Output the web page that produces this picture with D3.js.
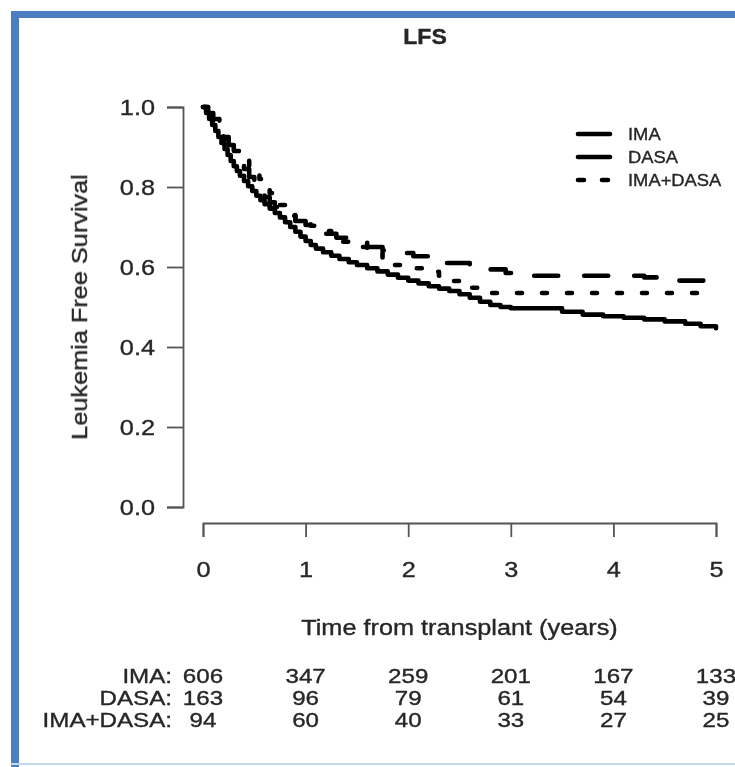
<!DOCTYPE html>
<html>
<head>
<meta charset="utf-8">
<script src="https://cdn.jsdelivr.net/npm/d3@7"></script>
<style>
  html, body { margin: 0; padding: 0; background: #fff; }
  svg text { font-family: "Liberation Sans", Arial, Helvetica, sans-serif; fill: #262626; stroke: #262626; stroke-width: 0.35; }
</style>
</head>
<body>
<div id="chart"></div>
<script>
// Kaplan-Meier step data (years, survival)
const imaTime = [0, 0.03, 0.06, 0.09, 0.12, 0.15, 0.18, 0.21, 0.24, 0.27, 0.3, 0.33, 0.36, 0.4, 0.44, 0.48, 0.52, 0.56, 0.6, 0.65, 0.7, 0.75, 0.8, 0.85, 0.9, 0.95, 1.0, 1.05, 1.1, 1.17, 1.25, 1.33, 1.42, 1.5, 1.6, 1.7, 1.8, 1.9, 2.0, 2.1, 2.2, 2.3, 2.4, 2.5, 2.6, 2.7, 2.8, 2.9, 3.0, 3.5, 3.7, 3.9, 4.1, 4.3, 4.5, 4.7, 4.85, 5.0]
const imaSurv = [1.0, 0.985, 0.97, 0.955, 0.94, 0.925, 0.91, 0.895, 0.88, 0.865, 0.852, 0.84, 0.828, 0.815, 0.802, 0.79, 0.778, 0.767, 0.757, 0.746, 0.735, 0.724, 0.712, 0.7, 0.688, 0.676, 0.665, 0.655, 0.646, 0.637, 0.628, 0.62, 0.612, 0.605, 0.597, 0.589, 0.581, 0.573, 0.566, 0.559, 0.552, 0.546, 0.54, 0.532, 0.523, 0.513, 0.505, 0.5, 0.497, 0.488, 0.481, 0.477, 0.473, 0.469, 0.464, 0.458, 0.452, 0.447]

const dasaTime = [0, 0.05, 0.1, 0.15, 0.2, 0.25, 0.3, 0.35, 0.4, 0.45, 0.5, 0.55, 0.6, 0.65, 0.7, 0.8, 0.9, 1.0, 1.1, 1.2, 1.3, 1.45, 1.6, 1.75, 1.9, 2.05, 2.2, 2.35, 2.6, 2.8, 2.95, 3.05, 4.3, 4.45, 5.0]
const dasaSurv = [1.0, 0.985, 0.965, 0.945, 0.925, 0.905, 0.885, 0.865, 0.845, 0.825, 0.805, 0.79, 0.775, 0.762, 0.75, 0.73, 0.715, 0.705, 0.695, 0.683, 0.673, 0.662, 0.65, 0.642, 0.635, 0.627, 0.618, 0.61, 0.603, 0.594, 0.585, 0.578, 0.574, 0.566, 0.566]

const comboTime = [0, 0.07, 0.12, 0.16, 0.2, 0.25, 0.3, 0.35, 0.4, 0.45, 0.5, 0.55, 0.6, 0.65, 0.7, 0.75, 0.8, 0.85, 0.9, 0.95, 1.05, 1.15, 1.25, 1.35, 1.5, 1.6, 1.75, 1.85, 2.0, 2.15, 2.3, 2.4, 2.5, 2.6, 2.7, 2.78, 5.0]
const comboSurv = [1.0, 0.99, 0.97, 0.945, 0.92, 0.9, 0.89, 0.878, 0.866, 0.853, 0.838, 0.82, 0.8, 0.785, 0.77, 0.755, 0.74, 0.728, 0.718, 0.71, 0.703, 0.69, 0.672, 0.663, 0.65, 0.64, 0.622, 0.605, 0.597, 0.588, 0.578, 0.565, 0.555, 0.548, 0.54, 0.535, 0.535]

const groups = ['IMA', 'DASA', 'IMA+DASA']
const xTicks = [0, 1, 2, 3, 4, 5]
const yTicks = [0, 0.2, 0.4, 0.6, 0.8, 1.0]

// numbers at risk
const riskTimes = [0, 1, 2, 3, 4, 5]
const riskIma = [606, 347, 259, 201, 167, 133]
const riskDasa = [163, 96, 79, 61, 54, 39]
const riskCombo = [94, 60, 40, 33, 27, 25]

const width = 735
const height = 767

const svg = d3.select('#chart').append('svg')
    .attr('width', width)
    .attr('height', height)

const defs = svg.append('defs')
defs.append('filter').attr('id', 'soft')
    .append('feGaussianBlur').attr('stdDeviation', 0.45)

// frame (blue border of the slide)
svg.append('rect').attr('x', 11).attr('y', 11).attr('width', width - 11).attr('height', 7).attr('fill', '#4e7ec2')
svg.append('rect').attr('x', 11).attr('y', 11).attr('width', 8).attr('height', height - 11).attr('fill', '#4e7ec2')
svg.append('rect').attr('x', 11).attr('y', 763).attr('width', width - 11).attr('height', 2).attr('fill', '#c3d7ee')

const g = svg.append('g').attr('filter', 'url(#soft)')

const x = d3.scaleLinear().domain([0, 5]).range([203, 716])
const y = d3.scaleLinear().domain([0, 1]).range([507, 107])

const SX = 1.15

// put a text at (x, y) and stretch it sideways
function stretch(sel, sx, rot) {
    sel.each(function () {
        const t = d3.select(this)
        const tx = +t.attr('x') || 0
        const ty = +t.attr('y') || 0
        t.attr('x', null).attr('y', null)
            .attr('transform', `translate(${tx},${ty})${rot ? ` rotate(${rot})` : ''} scale(${sx},1)`)
    })
}

// title
g.append('text')
    .attr('x', 425).attr('y', 44)
    .attr('text-anchor', 'middle')
    .attr('font-size', 22)
    .attr('font-weight', 'bold')
    .text('LFS')
    .call(stretch, 1.05)

// axes
const axisColor = '#555'

const yAxis = g.append('g')
    .attr('transform', 'translate(183,0)')
    .call(d3.axisLeft(y).tickValues(yTicks).tickFormat(d3.format('.1f')).tickSize(16).tickPadding(12))
yAxis.selectAll('path, line').attr('stroke', axisColor).attr('stroke-width', 1.8)
yAxis.selectAll('text')
    .attr('font-size', 22).attr('font-family', null).attr('fill', null)
    .call(stretch, SX)

const xAxis = g.append('g')
    .attr('transform', 'translate(0,523)')
    .call(d3.axisBottom(x).tickValues(xTicks).tickFormat(d3.format('d')).tickSize(14).tickPadding(24))
xAxis.selectAll('path, line').attr('stroke', axisColor).attr('stroke-width', 1.8)
xAxis.selectAll('text')
    .attr('font-size', 22).attr('font-family', null).attr('fill', null)
    .call(stretch, SX)

g.append('text')
    .attr('x', x(2.5)).attr('y', 635)
    .attr('text-anchor', 'middle')
    .attr('font-size', 22)
    .text('Time from transplant (years)')
    .call(stretch, SX)

g.append('text')
    .attr('x', 87).attr('y', (y(0) + y(1)) / 2)
    .attr('text-anchor', 'middle')
    .attr('font-size', 22)
    .text('Leukemia Free Survival')
    .call(stretch, SX, -90)

// curves
const curves = [
    { name: groups[0], t: imaTime, s: imaSurv, dash: null },
    { name: groups[1], t: dasaTime, s: dasaSurv, dash: '24,26' },
    { name: groups[2], t: comboTime, s: comboSurv, dash: '5,20' }
]

const line = d3.line()
    .x(d => x(d[0]))
    .y(d => y(d[1]))
    .curve(d3.curveStepAfter)

g.append('g').selectAll('path')
    .data(curves)
    .enter()
    .append('path')
    .attr('d', d => line(d.t.map((t, i) => [t, d.s[i]])))
    .attr('fill', 'none')
    .attr('stroke', '#000')
    .attr('stroke-width', 4.6)
    .attr('stroke-linecap', 'round')
    .attr('stroke-linejoin', 'round')
    .attr('stroke-dasharray', d => d.dash)

// legend
const legendDash = [null, '36,100', '6,18']
const legend = g.append('g').selectAll('g')
    .data(groups)
    .enter()
    .append('g')
    .attr('transform', (d, i) => `translate(0,${134 + i * 23})`)

legend.append('line')
    .attr('x1', 578).attr('x2', 610)
    .attr('stroke', '#000')
    .attr('stroke-width', 4.6)
    .attr('stroke-linecap', 'round')
    .attr('stroke-dasharray', (d, i) => legendDash[i])

legend.append('text')
    .attr('x', 628).attr('y', 6)
    .attr('font-size', 17)
    .text(d => d)
    .call(stretch, 1.08)

// numbers at risk table
const riskRows = [riskIma, riskDasa, riskCombo]
const rows = g.append('g').selectAll('g')
    .data(riskRows)
    .enter()
    .append('g')
    .attr('transform', (d, i) => `translate(0,${683 + i * 22})`)

rows.append('text')
    .attr('x', 172).attr('y', 0)
    .attr('text-anchor', 'end')
    .attr('font-size', 21)
    .text((d, i) => groups[i] + ':')
    .call(stretch, SX)

rows.selectAll('text.n')
    .data(d => d.map((v, j) => ({ v: v, t: riskTimes[j] })))
    .enter()
    .append('text')
    .attr('class', 'n')
    .attr('x', d => x(d.t)).attr('y', 0)
    .attr('text-anchor', 'middle')
    .attr('font-size', 21)
    .text(d => d.v)
    .call(stretch, SX)
</script>
</body>
</html>
